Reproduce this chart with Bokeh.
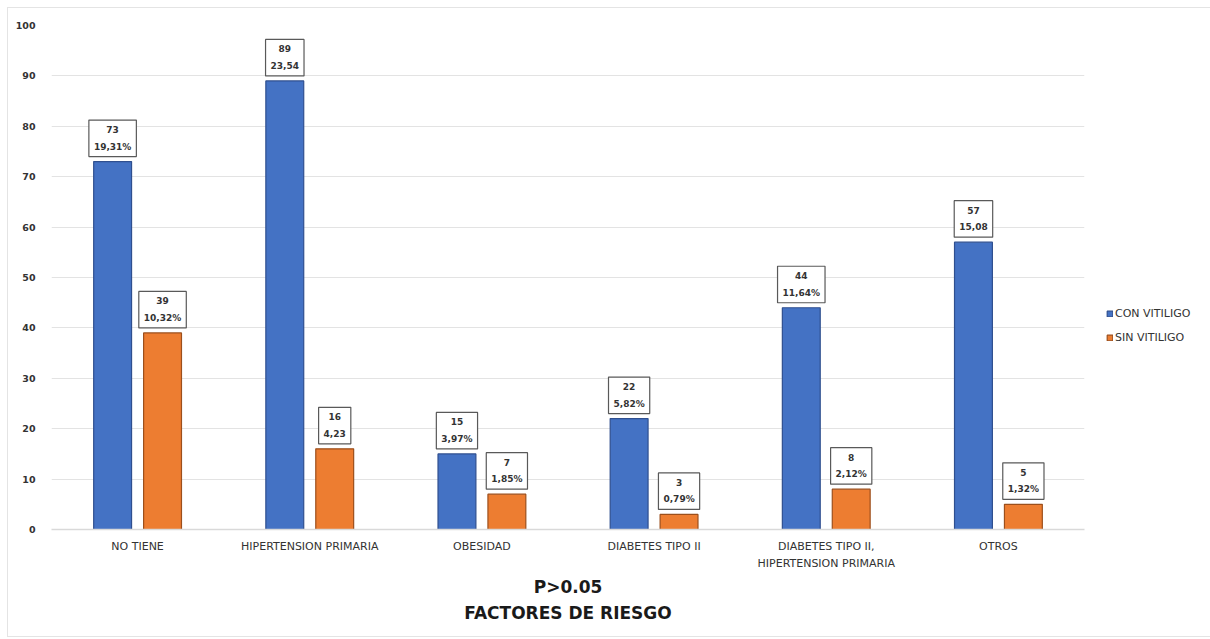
from bokeh.plotting import figure
from bokeh.models import (ColumnDataSource, FactorRange, Legend, LegendItem, Title,
                          SingleIntervalTicker, CategoricalAxis, CustomJSTickFormatter)
from bokeh.core.properties import value
from bokeh.transform import dodge
from bokeh.embed import file_html
from bokeh.resources import INLINE

categories = ["NO TIENE", "HIPERTENSION PRIMARIA", "OBESIDAD", "DIABETES TIPO II",
              "DIABETES TIPO II, HIPERTENSION PRIMARIA", "OTROS"]
con_vitiligo = [73, 89, 15, 22, 44, 57]
con_pct = ["19,31%", "23,54", "3,97%", "5,82%", "11,64%", "15,08"]
sin_vitiligo = [39, 16, 7, 3, 8, 5]
sin_pct = ["10,32%", "4,23", "1,85%", "0,79%", "2,12%", "1,32%"]
# category labels split over two lines (first line / second line)
label_line1 = ["NO TIENE", "HIPERTENSION PRIMARIA", "OBESIDAD", "DIABETES TIPO II",
               "DIABETES TIPO II,", "OTROS"]
label_line2 = ["", "", "", "", "HIPERTENSION PRIMARIA", ""]

src = ColumnDataSource(dict(
    cat=categories,
    con=con_vitiligo,
    sin=sin_vitiligo,
    con_lab=[f"{v}\n{p}" for v, p in zip(con_vitiligo, con_pct)],
    sin_lab=[f"{v}\n{p}" for v, p in zip(sin_vitiligo, sin_pct)],
))

FONT = "DejaVu Sans"
TXT = "#333333"
p = figure(frame_width=1033, frame_height=504, x_range=FactorRange(*categories), y_range=(0, 100),
           output_backend="svg", toolbar_location=None,
           min_border_left=43, min_border_top=17, min_border_bottom=107, min_border_right=125)
p.outline_line_color = None
p.border_fill_color = "white"
p.margin = (7, 0, 0, 7)
p.styles = {"border": "1px solid #E4E4E4"}

blue = "#4472C4"
orange = "#ED7D31"
r1 = p.vbar(x=dodge("cat", -0.145, range=p.x_range), top="con", width=0.22, source=src,
            fill_color=blue, line_color="#2F4F8F", line_width=1.2)
r2 = p.vbar(x=dodge("cat", 0.145, range=p.x_range), top="sin", width=0.22, source=src,
            fill_color=orange, line_color="#9C4F1C", line_width=1.2)

for col, off in (("con", -0.145), ("sin", 0.145)):
    p.text(x=dodge("cat", off, range=p.x_range), y=col, text=col + "_lab", source=src,
           text_align="center", text_baseline="bottom", y_offset=-5,
           text_font=value(FONT), text_font_style="bold", text_font_size="9px",
           text_color=TXT, text_line_height=1.65,
           background_fill_color="white", border_line_color="#595959",
           border_line_width=1.2, padding=5)

p.yaxis.ticker = SingleIntervalTicker(interval=10)
p.yaxis.axis_line_color = None
p.yaxis.major_tick_line_color = None
p.yaxis.minor_tick_line_color = None
p.yaxis.major_tick_out = 0
p.yaxis.major_label_text_font = FONT
p.yaxis.major_label_text_font_style = "bold"
p.yaxis.major_label_text_font_size = "9.5px"
p.yaxis.major_label_text_color = TXT
p.yaxis.major_label_standoff = 12

JS = """
const i = keys.indexOf(tick);
if (i < 0) return tick;
const v = vals[i];
return v === "" ? " " : v;
"""

xa = p.xaxis[0]
xa.axis_line_color = "#D9D9D9"
xa.axis_line_width = 1.5
xa.major_tick_line_color = None
xa.minor_tick_line_color = None
xa.major_tick_out = 0
xa.formatter = CustomJSTickFormatter(args=dict(keys=categories, vals=label_line1), code=JS)
xa.major_label_text_font = FONT
xa.major_label_text_font_size = "11px"
xa.major_label_text_color = TXT
xa.major_label_standoff = 10

xa2 = CategoricalAxis(axis_line_color=None, major_tick_line_color=None,
                      minor_tick_line_color=None, major_tick_out=0,
                      formatter=CustomJSTickFormatter(args=dict(keys=categories, vals=label_line2), code=JS),
                      major_label_text_font=FONT,
                      major_label_text_font_size="11px", major_label_text_color=TXT,
                      major_label_standoff=1)
p.add_layout(xa2, "below")

p.xgrid.grid_line_color = None
p.ygrid.grid_line_color = "#E3E3E3"
p.ygrid.grid_line_width = 1

legend = Legend(items=[LegendItem(label="CON VITILIGO", renderers=[r1]),
                       LegendItem(label="SIN VITILIGO", renderers=[r2])],
                location=(22, 185), border_line_color=None, background_fill_alpha=0,
                label_text_font=FONT, label_text_font_size="11px", label_text_color=TXT,
                glyph_width=7, glyph_height=7, spacing=11, label_standoff=2,
                padding=0, margin=0, label_height=13)
p.add_layout(legend, "right")

t1 = Title(text="P>0.05", align="center", text_font=FONT, text_font_style="bold",
           text_font_size="17px", text_color="#1a1a1a", standoff=5)
t2 = Title(text="FACTORES DE RIESGO", align="center", text_font=FONT, text_font_style="bold",
           text_font_size="17px", text_color="#1a1a1a", standoff=2)
p.add_layout(t1, "below")
p.add_layout(t2, "below")

open("out.html", "w").write(file_html(p, INLINE))
